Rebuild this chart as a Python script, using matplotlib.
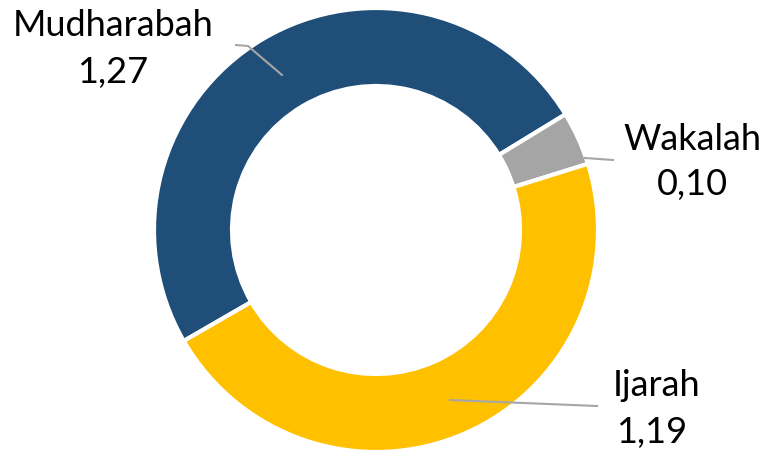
import matplotlib
matplotlib.use("Agg")
import matplotlib.pyplot as plt

labels = ["Mudharabah", "Wakalah", "Ijarah"]
values = [1.27, 0.10, 1.19]
value_text = ["1,27", "0,10", "1,19"]
colors = ["#1F4E79", "#A5A5A5", "#FFC000"]

H = 453
fig = plt.figure(figsize=(7.66, 4.53), dpi=100)
ax = fig.add_axes([0, 0, 1, 1])
ax.set_xlim(0, 766)
ax.set_ylim(0, H)
ax.set_aspect("equal")
ax.axis("off")

R = 222
ax.pie(values, colors=colors, startangle=210, counterclock=False,
       center=(376, H - 230), radius=R,
       wedgeprops=dict(width=78, edgecolor="white", linewidth=3))
ax.set_xlim(0, 766)
ax.set_ylim(0, H)

font = dict(family=["Lato", "DejaVu Sans"], fontsize=26, color="black", ha="center", va="center")

# leader lines (pixel coords from the top)
leaders = [
    [(236, 45), (248, 46), (282, 75)],
    [(585, 158), (613, 160)],
    [(450, 400), (597, 406)],
]
for pts in leaders:
    ax.plot([p[0] for p in pts], [H - p[1] for p in pts], color="#A6A6A6", lw=1.5)

pos = [((113, 25), (113, 72)), ((692, 140), (692, 185)), ((657, 385), (652, 432))]
for lab, vt, (p1, p2) in zip(labels, value_text, pos):
    ax.text(p1[0], H - p1[1], lab, **font)
    ax.text(p2[0], H - p2[1], vt, **font)

fig.savefig("out.png", dpi=100)
